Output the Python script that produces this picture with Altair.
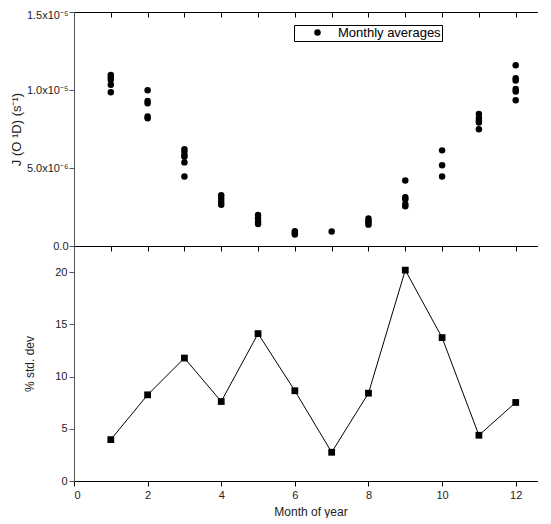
import altair as alt
import pandas as pd

# ---- data ----
months_top = [1]*5 + [2]*5 + [3]*6 + [4]*4 + [5]*4 + [6]*3 + [7] + [8]*4 + [9]*5 + [10]*3 + [11]*5 + [12]*6
j_vals = [
    1.097e-5, 1.082e-5, 1.065e-5, 1.033e-5, 0.986e-5,
    0.999e-5, 0.930e-5, 0.915e-5, 0.830e-5, 0.819e-5,
    6.21e-6, 6.05e-6, 5.83e-6, 5.72e-6, 5.36e-6, 4.45e-6,
    3.25e-6, 3.04e-6, 2.83e-6, 2.64e-6,
    1.99e-6, 1.77e-6, 1.56e-6, 1.41e-6,
    0.95e-6, 0.84e-6, 0.74e-6,
    0.93e-6,
    1.76e-6, 1.61e-6, 1.50e-6, 1.37e-6,
    4.20e-6, 3.13e-6, 3.00e-6, 2.68e-6, 2.55e-6,
    6.13e-6, 5.18e-6, 4.45e-6,
    8.46e-6, 8.21e-6, 8.04e-6, 7.91e-6, 7.48e-6,
    1.158e-5, 1.076e-5, 1.061e-5, 1.007e-5, 0.990e-5, 0.934e-5,
]
series_name = ["Monthly averages"] * len(j_vals)

months_bot = [1, 2, 3, 4, 5, 6, 7, 8, 9, 10, 11, 12]
std_dev = [3.96, 8.25, 11.77, 7.61, 14.11, 8.64, 2.75, 8.41, 20.19, 13.73, 4.38, 7.52]

x_ticks = [0, 1, 2, 3, 4, 5, 6, 7, 8, 9, 10, 11, 12]
y_top_ticks = [0, 2.5e-6, 5e-6, 7.5e-6, 1e-5, 1.25e-5, 1.5e-5]
y_bot_ticks = [0, 2.5, 5, 7.5, 10, 12.5, 15, 17.5, 20]

df_top = pd.DataFrame({"month": months_top, "J": j_vals, "series": series_name})
df_bot = pd.DataFrame({"month": months_bot, "std": std_dev})

FONT = "Liberation Sans"
W = 473
xs = alt.Scale(domain=[0, 12.85], nice=False, zero=False)

top_label_expr = (
    "datum.value < 1e-9 ? '0.0' : "
    "abs(datum.value-5e-6) < 1e-9 ? '5.0x10⁻⁶' : "
    "abs(datum.value-1e-5) < 1e-9 ? '1.0x10⁻⁵' : "
    "abs(datum.value-1.5e-5) < 1e-9 ? '1.5x10⁻⁵' : ''"
)

y_top = alt.Y(
    "J:Q",
    scale=alt.Scale(domain=[0, 1.5e-5], nice=False),
    axis=alt.Axis(
        values=y_top_ticks, labelExpr=top_label_expr, title="J (O ¹D) (s⁻¹)",
        grid=False, tickSize=5, labelFontSize=11, titleFontSize=13,
        labelFont=FONT, titleFont=FONT, titleFontWeight="normal",
        domainColor="#555", tickColor="#555", labelColor="#222", titleColor="#222",
        titlePadding=3, labelPadding=1,
        labelOffset={"condition": {"test": "datum.value > 1.4e-5", "value": 3}, "value": 0},
    ),
)

pts = alt.Chart(df_top).mark_circle(size=42, opacity=1).encode(
    x=alt.X("month:Q", scale=xs, axis=alt.Axis(
        orient="bottom", values=x_ticks, labels=False, title=None, grid=False,
        tickSize=5, domainColor="black", tickColor="black")),
    y=y_top,
    color=alt.Color("series:N", scale=alt.Scale(range=["black"]), legend=alt.Legend(
        title=None, orient="none", legendX=220, legendY=13,
        strokeColor="black", fillColor="white", padding=1, cornerRadius=0,
        symbolType="circle", symbolSize=42, symbolOffset=16, labelOffset=14,
        labelFontSize=13, labelFont=FONT, labelColor="black")),
)

top_axis = alt.Chart(df_top).mark_point(opacity=0).encode(
    x=alt.X("month:Q", scale=xs, axis=alt.Axis(
        orient="top", offset=-5, domain=False, values=x_ticks, labels=False,
        title=None, grid=False, tickSize=5, tickColor="black")),
    y=alt.Y("J:Q", scale=alt.Scale(domain=[0, 1.5e-5], nice=False)),
)

top = alt.layer(pts, top_axis).resolve_axis(x="independent").properties(width=W, height=234)

bot_label_expr = "datum.value % 5 == 0 ? format(datum.value, 'd') : ''"
x_label_expr = "datum.value % 2 == 0 ? format(datum.value, 'd') : ''"

line = alt.Chart(df_bot).mark_line(color="black", strokeWidth=1).encode(
    x=alt.X("month:Q", scale=xs, axis=alt.Axis(
        values=x_ticks, labelExpr=x_label_expr, title="Month of year", grid=False,
        tickSize=5, labelFontSize=11, titleFontSize=12, labelFont=FONT, titleFont=FONT,
        titleFontWeight="normal", domainColor="black", tickColor="black",
        labelColor="#222", titleColor="#222", titlePadding=6, labelPadding=3)),
    y=alt.Y("std:Q", scale=alt.Scale(domain=[0, 22.5], nice=False), axis=alt.Axis(
        values=y_bot_ticks, labelExpr=bot_label_expr, title="% std. dev", grid=False,
        tickSize=5, labelFontSize=11, titleFontSize=12, labelFont=FONT, titleFont=FONT,
        titleFontWeight="normal", domainColor="#555", tickColor="#555",
        labelColor="#222", titleColor="#222", titlePadding=18)),
)
sq = alt.Chart(df_bot).mark_square(size=46, color="black", opacity=1).encode(
    x=alt.X("month:Q", scale=xs),
    y=alt.Y("std:Q", scale=alt.Scale(domain=[0, 22.5], nice=False)),
)
bottom = alt.layer(line, sq).properties(width=W, height=235)

chart = alt.vconcat(top, bottom, spacing=0, bounds="flush").configure_view(
    stroke="black", strokeWidth=1
).properties(background="white", padding={"left": 1, "top": 0, "right": -10, "bottom": 0})

chart.save("out.html", embed_options={"renderer": "svg", "actions": False})
